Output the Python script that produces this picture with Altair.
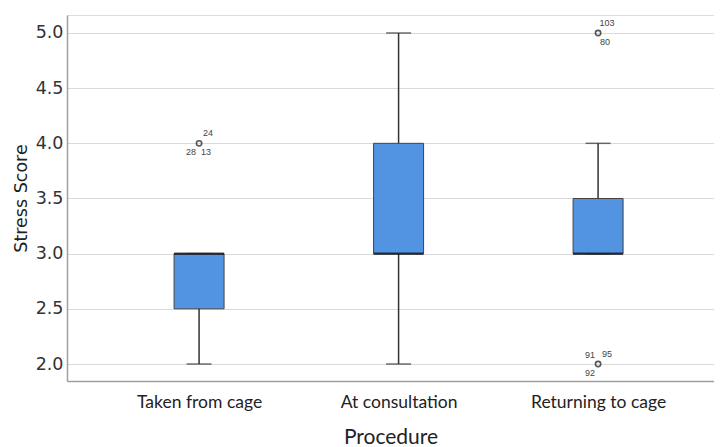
import json
import altair as alt
import pandas as pd

categories = ["Taken from cage", "At consultation", "Returning to cage"]
q1 = [2.5, 3.0, 3.0]
median = [3.0, 3.0, 3.0]
q3 = [3.0, 4.0, 3.5]
whisk_lo = [2.0, 2.0, 3.0]
whisk_hi = [3.0, 5.0, 4.0]

out_cat = [0, 2, 2]
out_val = [4.0, 5.0, 2.0]

lab_cat = [0, 0, 0, 2, 2, 2, 2, 2]
lab_val = [4.0, 4.0, 4.0, 5.0, 5.0, 2.0, 2.0, 2.0]
lab_text = ["24", "28", "13", "103", "80", "91", "95", "92"]
lab_pos = ["ur", "ll", "lr", "ur", "lr", "ul", "ur", "ll"]

box_df = pd.DataFrame({
    "pos": list(range(len(categories))),
    "cat": categories,
    "q1": q1, "median": median, "q3": q3, "lo": whisk_lo, "hi": whisk_hi,
})
out_df = pd.DataFrame({"pos": out_cat, "val": out_val})
lab_df = pd.DataFrame({"pos": lab_cat, "val": lab_val, "text": lab_text, "p": lab_pos})

label_expr = json.dumps(categories) + "[datum.value]"

xscale = alt.Scale(domain=[-0.662, 2.581], nice=False, zero=False, padding=0)
yscale = alt.Scale(domain=[1.846, 5.163], nice=False, zero=False, padding=0)

x_enc = alt.X("pos:Q", scale=xscale, title="Procedure",
              axis=alt.Axis(values=[0, 1, 2], labelExpr=label_expr, grid=False,
                            ticks=False, labelPadding=12, titlePadding=16,
                            labelFont="Lato", labelFontSize=17.5, labelColor="#222",
                            titleFont="Lato", titleFontSize=21, titleFontWeight="normal",
                            titleColor="#222", domainColor="#a0a0a0", domainWidth=1.5))
y_enc = alt.Y("lo:Q", scale=yscale, title="Stress Score",
              axis=alt.Axis(values=[2.0, 2.5, 3.0, 3.5, 4.0, 4.5, 5.0], format=".1f",
                            ticks=False, labelPadding=4, titlePadding=5,
                            labelFont="DejaVu Sans", labelFontSize=17.5, labelColor="#333",
                            titleFont="DejaVu Sans", titleFontSize=17.5, titleFontWeight="normal",
                            titleColor="#222", domainColor="#a0a0a0", domainWidth=1.5,
                            gridColor="#dadada", gridWidth=1.2))

base = alt.Chart(box_df)

whiskers = base.mark_rule(color="#333", strokeWidth=1.5).encode(
    x=x_enc, y=y_enc, y2="hi:Q")
cap_lo = base.mark_tick(color="#333", size=25, thickness=1.5, orient="horizontal").encode(
    x="pos:Q", y="lo:Q")
cap_hi = base.mark_tick(color="#333", size=25, thickness=1.5, orient="horizontal").encode(
    x="pos:Q", y="hi:Q")
boxes = base.mark_bar(width=50, color="#5294E2", stroke="#444", strokeWidth=1).encode(
    x="pos:Q", y="q1:Q", y2="q3:Q")
med = base.mark_tick(color="#111", size=50, thickness=2.5, orient="horizontal").encode(
    x="pos:Q", y="median:Q")

pts = alt.Chart(out_df).mark_point(shape="circle", filled=False, color="#111",
                                   strokeWidth=1.6, size=28).encode(x="pos:Q", y="val:Q")

offsets = {"ur": (9, -10), "ll": (-8, 9), "lr": (7, 9), "ul": (-8, -9)}
labels = []
for p, (dx, dy) in offsets.items():
    labels.append(
        alt.Chart(lab_df).transform_filter(alt.datum.p == p).mark_text(
            font="Liberation Sans", fontSize=9, color="#444", dx=dx, dy=dy
        ).encode(x="pos:Q", y="val:Q", text="text:N")
    )

chart = alt.layer(whiskers, cap_lo, cap_hi, boxes, med, pts, *labels).properties(
    width=647, height=366,
    autosize=alt.AutoSizeParams(type="none"),
    padding={"left": 59, "top": 7, "right": 0, "bottom": 66},
).configure_view(stroke=None).configure(background="white")

chart.save("out.html", embed_options={"renderer": "svg", "actions": False})
